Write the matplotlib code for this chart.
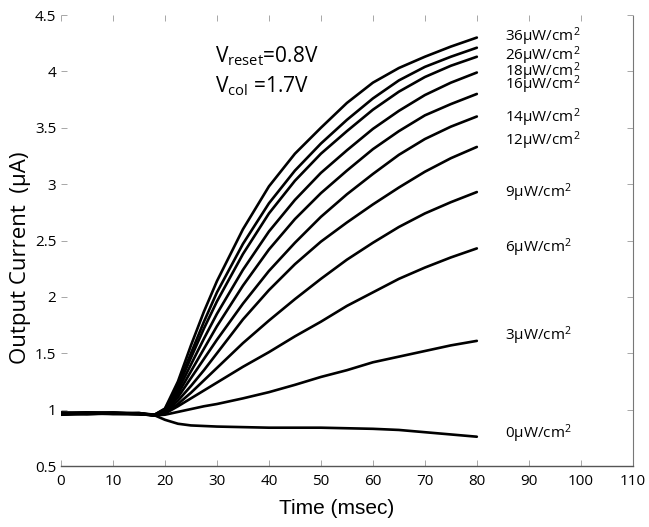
import matplotlib
matplotlib.use("Agg")
import matplotlib.pyplot as plt
import numpy as np

plt.rcParams['font.family'] = ['Open Sans', 'DejaVu Sans']
plt.rcParams['mathtext.fontset'] = 'custom'
plt.rcParams['mathtext.rm'] = 'Open Sans'
plt.rcParams['mathtext.it'] = 'Open Sans'
plt.rcParams['mathtext.default'] = 'regular'

# time samples (msec)
time_ms = [0, 5, 10, 15, 18, 20, 22.5, 25, 27.5, 30, 35, 40, 45, 50, 55, 60, 65, 70, 75, 80]

# output current (uA) for each illumination curve, top to bottom
i_36 = [0.97, 0.975, 0.97, 0.965, 0.955, 1.01, 1.25, 1.57, 1.87, 2.14, 2.60, 2.98, 3.27, 3.50, 3.72, 3.90, 4.03, 4.13, 4.22, 4.30]
i_26 = [0.96, 0.965, 0.97, 0.96, 0.955, 1.005, 1.22, 1.50, 1.78, 2.04, 2.47, 2.83, 3.12, 3.36, 3.57, 3.76, 3.92, 4.04, 4.13, 4.21]
i_18 = [0.975, 0.97, 0.965, 0.97, 0.955, 1.00, 1.20, 1.46, 1.72, 1.96, 2.38, 2.74, 3.03, 3.27, 3.47, 3.66, 3.82, 3.95, 4.05, 4.13]
i_16 = [0.955, 0.96, 0.965, 0.965, 0.95, 0.99, 1.17, 1.40, 1.63, 1.85, 2.24, 2.58, 2.86, 3.10, 3.30, 3.49, 3.65, 3.79, 3.90, 3.99]
i_14 = [0.965, 0.975, 0.97, 0.96, 0.95, 0.98, 1.14, 1.34, 1.54, 1.74, 2.10, 2.42, 2.69, 2.92, 3.12, 3.31, 3.47, 3.61, 3.71, 3.80]
i_12 = [0.97, 0.96, 0.97, 0.97, 0.95, 0.98, 1.11, 1.28, 1.45, 1.62, 1.94, 2.23, 2.48, 2.71, 2.91, 3.09, 3.26, 3.40, 3.51, 3.60]
i_10 = [0.96, 0.97, 0.975, 0.965, 0.95, 0.975, 1.08, 1.21, 1.35, 1.50, 1.80, 2.06, 2.29, 2.49, 2.66, 2.82, 2.97, 3.11, 3.23, 3.33]
i_9 = [0.965, 0.97, 0.96, 0.96, 0.95, 0.97, 1.05, 1.15, 1.26, 1.37, 1.59, 1.79, 1.98, 2.16, 2.33, 2.48, 2.62, 2.74, 2.84, 2.93]
i_6 = [0.97, 0.965, 0.97, 0.965, 0.95, 0.965, 1.03, 1.10, 1.17, 1.24, 1.38, 1.51, 1.65, 1.78, 1.92, 2.04, 2.16, 2.26, 2.35, 2.43]
i_3 = [0.96, 0.97, 0.965, 0.96, 0.95, 0.955, 0.98, 1.005, 1.03, 1.05, 1.10, 1.155, 1.22, 1.29, 1.35, 1.42, 1.47, 1.52, 1.57, 1.61]
i_0 = [0.965, 0.97, 0.97, 0.965, 0.95, 0.91, 0.875, 0.86, 0.855, 0.85, 0.845, 0.84, 0.84, 0.84, 0.835, 0.83, 0.82, 0.80, 0.78, 0.76]

curves = [i_36, i_26, i_18, i_16, i_14, i_12, i_10, i_9, i_6, i_3, i_0]

# curve labels and their vertical positions (uA)
label_text = ['36', '26', '18', '16', '14', '12', '9', '6', '3', '0']
label_y = [4.27, 4.10, 3.96, 3.84, 3.55, 3.35, 2.89, 2.40, 1.62, 0.75]
label_x = 85.4

x_ticks = [0, 10, 20, 30, 40, 50, 60, 70, 80, 90, 100, 110]
y_ticks = [0.5, 1, 1.5, 2, 2.5, 3, 3.5, 4, 4.5]
y_tick_labels = ['0.5', '1', '1.5', '2', '2.5', '3', '3.5', '4', '4.5']

fig = plt.figure(figsize=(6.49, 5.27), dpi=100)
ax = fig.add_axes([0.094, 0.1157, 0.881, 0.8558])

for c in curves:
    ax.plot(time_ms, c, color='black', lw=1.9, solid_joinstyle='round', solid_capstyle='round')

for t, y in zip(label_text, label_y):
    ax.text(label_x, y, t + 'μW/cm$^{2}$', fontsize=11, ha='left', va='baseline')

ax.text(29.6, 4.08, r'V$_{\mathrm{reset}}$=0.8V', fontsize=15, ha='left', va='baseline')
ax.text(29.6, 3.81, r'V$_{\mathrm{col}}$ =1.7V', fontsize=15, ha='left', va='baseline')

ax.set_xlim(0, 110)
ax.set_ylim(0.5, 4.5)
ax.set_xticks(x_ticks)
ax.set_yticks(y_ticks)
ax.set_yticklabels(y_tick_labels)
ax.tick_params(axis='both', direction='in', length=4, width=0.6, color='#999999', labelsize=11)
ax.tick_params(axis='x', pad=6)
ax.tick_params(top=True, right=True)

ax.set_xlabel('Time (msec)', fontsize=15, family=['Liberation Sans', 'DejaVu Sans'])
ax.xaxis.set_label_coords(0.4825, -0.074)
ax.set_ylabel('Output Current  (μA)', fontsize=16)
ax.yaxis.set_label_coords(-0.052, 0.461)

ax.spines['top'].set_visible(False)
ax.spines['left'].set_visible(False)
ax.spines['bottom'].set_color('#555555')
ax.spines['bottom'].set_linewidth(1.0)
ax.spines['right'].set_color('#777777')
ax.spines['right'].set_linewidth(0.8)
ax.spines['right'].set_linestyle((0, (1, 1)))

fig.savefig('out.png', dpi=100)
